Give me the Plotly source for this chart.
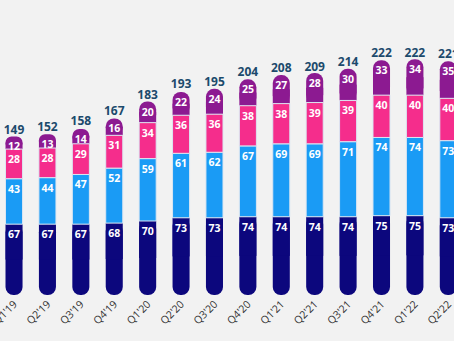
import plotly.graph_objects as go

quarters = ["Q1'19", "Q2'19", "Q3'19", "Q4'19", "Q1'20", "Q2'20", "Q3'20",
            "Q4'20", "Q1'21", "Q2'21", "Q3'21", "Q4'21", "Q1'22", "Q2'22"]
seg1 = [67, 67, 67, 68, 70, 73, 73, 74, 74, 74, 74, 75, 75, 73]
seg2 = [43, 44, 47, 52, 59, 61, 62, 67, 69, 69, 71, 74, 74, 73]
seg3 = [28, 28, 29, 31, 34, 36, 36, 38, 38, 39, 39, 40, 40, 40]
seg4 = [12, 13, 14, 16, 20, 22, 24, 25, 27, 28, 30, 33, 34, 35]
totals = [149, 152, 158, 167, 183, 193, 195, 204, 208, 209, 214, 222, 222, 221]

colors = ["#0c077d", "#1a9bf5", "#f52d8c", "#8c1a91"]
BG = "#f2f2f2"

top1 = seg1
top2 = [a + b for a, b in zip(seg1, seg2)]
top3 = [a + b for a, b in zip(top2, seg3)]
top4 = [a + b for a, b in zip(top3, seg4)]

divider = dict(width=1, color="#dbe6f2")
noline = dict(width=0)
R = 8
lbl_font = dict(family="Open Sans", size=10.5, color="white", weight=700)

fig = go.Figure()
# bottom segment drawn downward from its top -> rounded end at the baseline
fig.add_bar(x=quarters, y=[-v for v in seg1], base=top1,
            marker=dict(color=colors[0], cornerradius=R, line=noline))
fig.add_bar(x=quarters, y=[v / 2 for v in seg1], base=[v / 2 for v in seg1],
            marker=dict(color=colors[0], line=noline))
# top segment, rounded at its top end
fig.add_bar(x=quarters, y=seg4, base=top3,
            marker=dict(color=colors[3], cornerradius=R, line=noline))
fig.add_bar(x=quarters, y=[v / 2 for v in seg4], base=top3,
            marker=dict(color=colors[3], line=noline))
# middle segments with labels
fig.add_bar(x=quarters, y=seg2, base=top1, text=seg2,
            marker=dict(color=colors[1], line=divider),
            textposition="inside", insidetextanchor="end",
            textangle=0, textfont=lbl_font)
fig.add_bar(x=quarters, y=seg3, base=top2, text=seg3,
            marker=dict(color=colors[2], line=divider),
            textposition="inside", insidetextanchor="end",
            textangle=0, textfont=lbl_font)
# label layers for bottom and top segments
fig.add_bar(x=quarters, y=seg1, base=[0] * len(seg1), text=seg1,
            marker=dict(color="rgba(0,0,0,0)", line=noline),
            textposition="inside", insidetextanchor="end",
            textangle=0, textfont=lbl_font)
fig.add_bar(x=quarters, y=seg4, base=top3, text=seg4,
            marker=dict(color="rgba(0,0,0,0)", line=noline),
            textposition="inside", insidetextanchor="end",
            textangle=0, textfont=lbl_font)
# totals
fig.add_scatter(x=quarters, y=totals, mode="text", text=totals,
                textposition="top center",
                textfont=dict(family="Open Sans", size=12, color="#1c4a6c",
                              weight=700))

fig.update_layout(
    width=454, height=341,
    margin=dict(l=0, r=0, t=0, b=46),
    paper_bgcolor=BG, plot_bgcolor=BG,
    barmode="overlay", bargap=0.49,
    showlegend=False,
    uniformtext=dict(minsize=10.5, mode="show"),
    xaxis=dict(range=[-0.42, 13.17], tickangle=-45, showgrid=False,
               showline=False, zeroline=False, ticks="", automargin=False,
               tickfont=dict(family="Open Sans", size=10.5, color="#333333")),
    yaxis=dict(range=[0, 279], visible=False, showgrid=False, zeroline=False),
)

fig.write_html("out.html")
